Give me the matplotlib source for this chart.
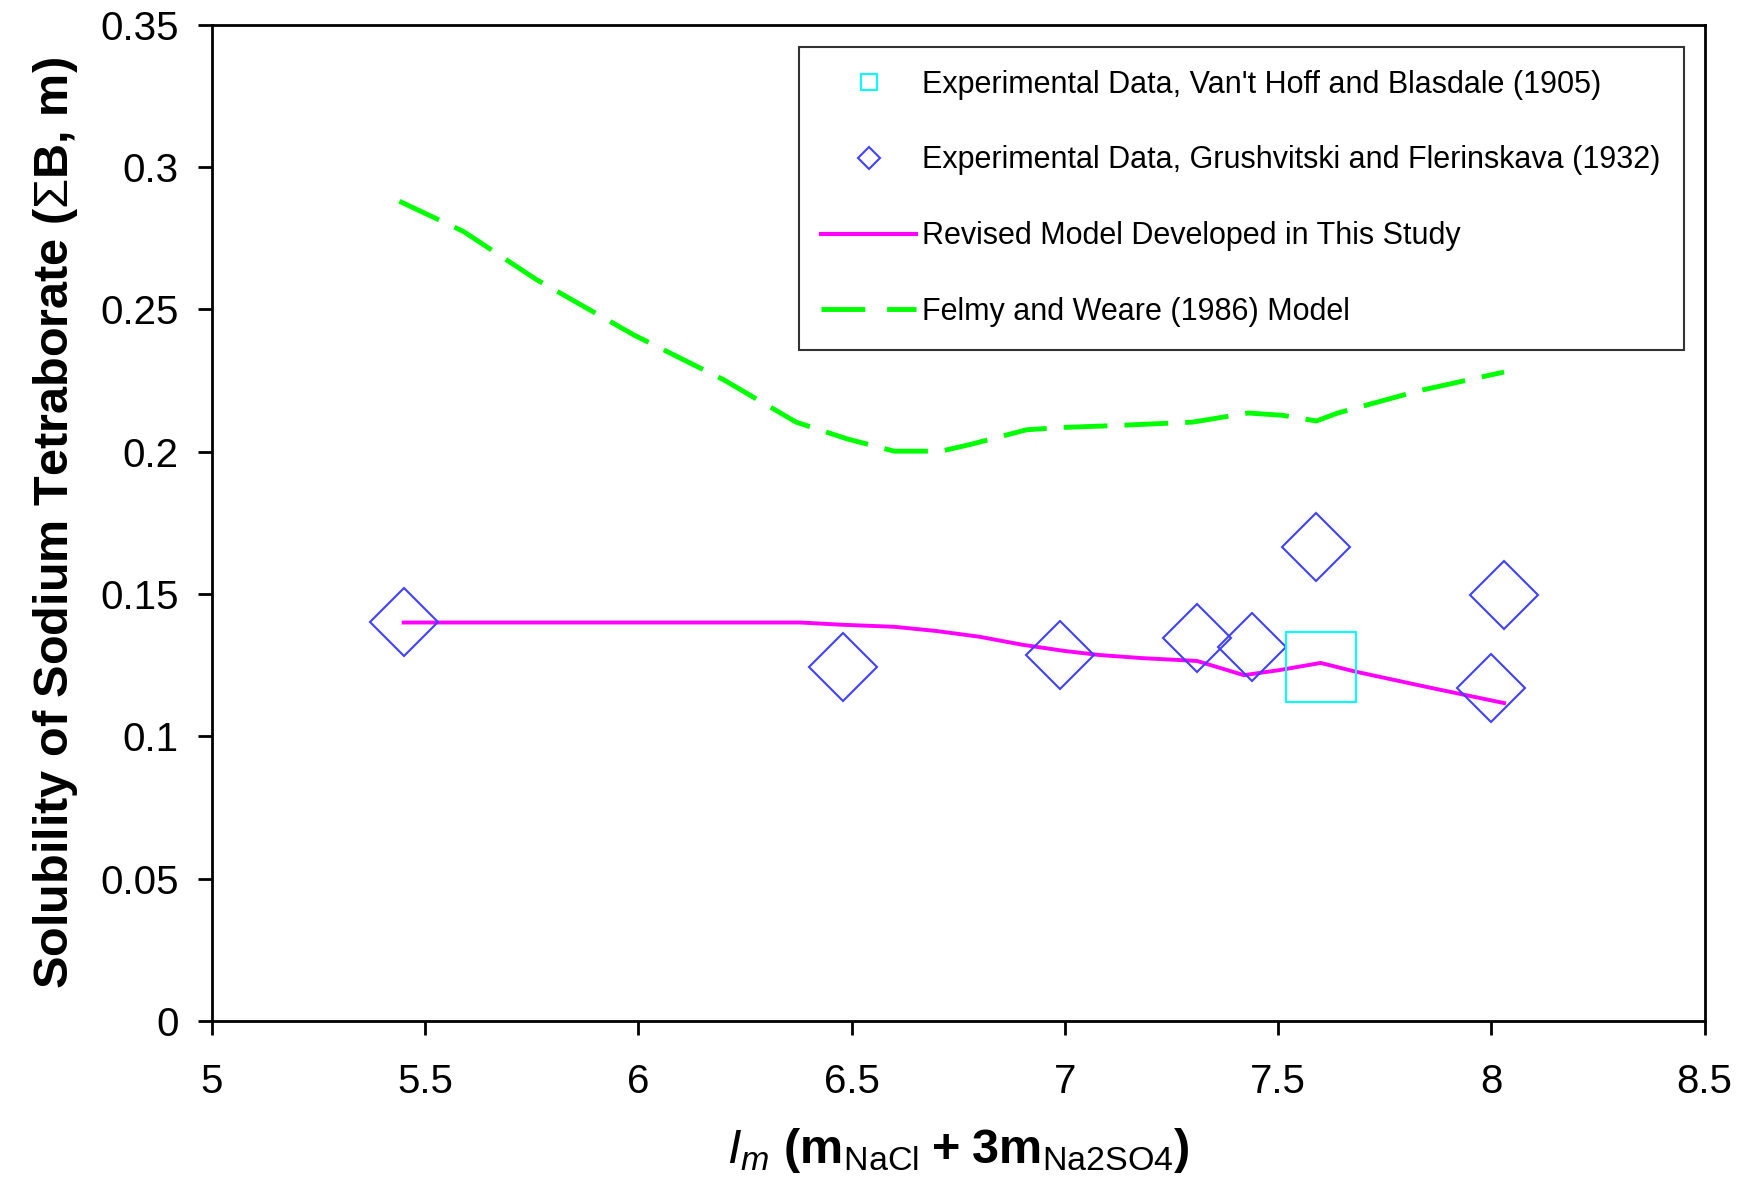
import matplotlib
matplotlib.use("Agg")
import matplotlib.pyplot as plt
from matplotlib.lines import Line2D

# experimental data, Van't Hoff and Blasdale (1905)
vh_x = [7.60]
vh_y = [0.1245]

# experimental data, Grushvitski and Flerinskava (1932)
gr_x = [5.45, 6.48, 6.99, 7.31, 7.44, 7.59, 8.03, 8.00]
gr_y = [0.1403, 0.1245, 0.1285, 0.1345, 0.1315, 0.1665, 0.1495, 0.1170]

# revised model
rev_x = [5.45, 6.38, 6.48, 6.60, 6.70, 6.80, 6.90, 7.00, 7.08, 7.18, 7.31, 7.42, 7.50, 7.60, 7.68, 7.86, 8.03]
rev_y = [0.1400, 0.1400, 0.1392, 0.1385, 0.1370, 0.1350, 0.1322, 0.1300, 0.1286, 0.1275, 0.1265, 0.1215, 0.1232, 0.1258, 0.1228, 0.1170, 0.1117]

# Felmy and Weare (1986)
fw_x = [5.44, 5.59, 5.76, 5.99, 6.20, 6.37, 6.49, 6.60, 6.71, 6.78, 6.91, 6.99, 7.12, 7.30, 7.43, 7.51, 7.59, 7.64, 7.83, 8.03]
fw_y = [0.2880, 0.2774, 0.2606, 0.2410, 0.2253, 0.2104, 0.2045, 0.2002, 0.2002, 0.2026, 0.2077, 0.2085, 0.2092, 0.2104, 0.2136, 0.2128, 0.2108, 0.2136, 0.2214, 0.2280]

xticks = [5, 5.5, 6, 6.5, 7, 7.5, 8, 8.5]
xticklabels = ["5", "5.5", "6", "6.5", "7", "7.5", "8", "8.5"]
yticks = [0, 0.05, 0.1, 0.15, 0.2, 0.25, 0.3, 0.35]
yticklabels = ["0", "0.05", "0.1", "0.15", "0.2", "0.25", "0.3", "0.35"]

plt.rcParams['font.family'] = ['Liberation Sans', 'DejaVu Sans']
plt.rcParams['mathtext.fontset'] = 'custom'
plt.rcParams['mathtext.rm'] = 'Liberation Sans'
plt.rcParams['mathtext.it'] = 'Liberation Sans:italic'
plt.rcParams['mathtext.bf'] = 'Liberation Sans:bold'

fig = plt.figure(figsize=(17.5, 11.79), dpi=100)
ax = fig.add_axes([0.121, 0.134, 0.853, 0.845])

ax.plot(fw_x, fw_y, color='#00ff00', lw=3.5, dashes=(9, 3.5), zorder=2)
ax.plot(rev_x, rev_y, color='#ff00ff', lw=2.8, zorder=2)
ax.plot(gr_x, gr_y, ls='none', marker='D', ms=35, mfc='none', mec='#4040ff', mew=1.5, zorder=3)
ax.plot(vh_x, vh_y, ls='none', marker='s', ms=50, mfc='none', mec='#00ffff', mew=1.5, zorder=3)

ax.set_xlim(5, 8.5)
ax.set_ylim(0, 0.35)
ax.set_xticks(xticks)
ax.set_xticklabels(xticklabels)
ax.set_yticks(yticks)
ax.set_yticklabels(yticklabels)
ax.tick_params(axis='both', direction='out', length=10, width=2, labelsize=29)
ax.tick_params(axis='x', pad=20)
ax.tick_params(axis='y', pad=14)
for s in ax.spines.values():
    s.set_linewidth(2)

ax.set_ylabel(r'Solubility of Sodium Tetraborate ($\Sigma$B, m)', fontsize=35, fontweight='bold', labelpad=14)
ax.set_xlabel(r'$\mathit{I}_{\mathit{m}}\ \mathbf{(m}_{\mathrm{NaCl}}\;\mathbf{+}\;\mathbf{3m}_{\mathrm{Na2SO4}}\mathbf{)}$',
              fontsize=35, labelpad=18)

handles = [
    Line2D([], [], ls='none', marker='s', ms=11, mfc='none', mec='#00ffff', mew=1.5),
    Line2D([], [], ls='none', marker='D', ms=11, mfc='none', mec='#4040ff', mew=1.5),
    Line2D([], [], color='#ff00ff', lw=3),
    Line2D([], [], color='#00ff00', lw=3.5, dashes=(9, 4.5)),
]
labels = [
    "Experimental Data, Van't Hoff and Blasdale (1905)",
    "Experimental Data, Grushvitski and Flerinskava (1932)",
    "Revised Model Developed in This Study",
    "Felmy and Weare (1986) Model",
]
leg = ax.legend(handles, labels, loc='upper right', bbox_to_anchor=(0.986, 0.978),
                fontsize=22, frameon=True, fancybox=False, edgecolor='black',
                labelspacing=1.5, handlelength=3.1, handletextpad=0.2,
                borderpad=0.75, borderaxespad=0)
leg.get_frame().set_linewidth(1.5)

fig.savefig('out.png', dpi=100)
